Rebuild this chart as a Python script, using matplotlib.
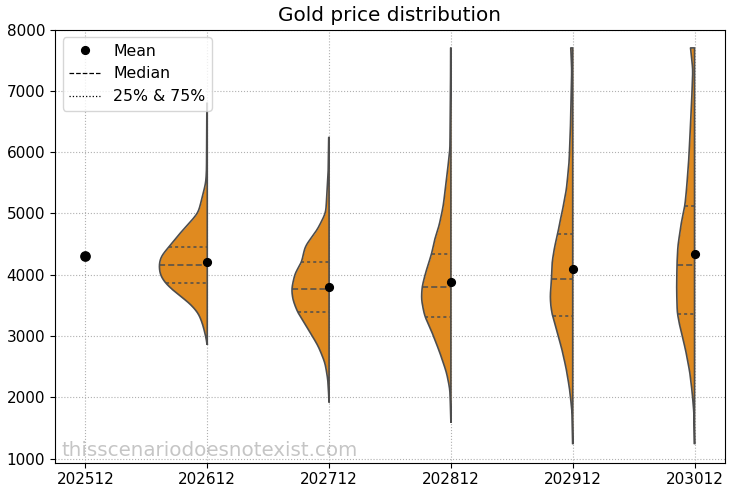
import numpy as np
import matplotlib
matplotlib.use("Agg")
import matplotlib.pyplot as plt
from matplotlib.lines import Line2D

# categories (year-month of the forecast horizon)
periods = ["202512", "202612", "202712", "202812", "202912", "203012"]

# summary stats (202512 has only a single value)
means = [4300, 4205, 3800, 3890, 4100, 4340]
medians = [None, 4165, 3765, 3795, 3925, 4165]
q25 = [None, 3860, 3385, 3315, 3320, 3365]
q75 = [None, 4455, 4205, 4345, 4660, 5115]

# half-violin outlines: price levels and density half-widths (category units)
prof_y_202612 = [2870, 3053, 3216, 3379, 3542, 3705, 3868, 4003, 4165, 4302, 4465,
                 4628, 4791, 5010, 5227, 5500, 5700, 6800]
prof_w_202612 = [0.0, 0.019, 0.041, 0.074, 0.148, 0.257, 0.347, 0.388, 0.396, 0.38,
                 0.31, 0.246, 0.17, 0.074, 0.046, 0.012, 0.006, 0.003]

prof_y_202712 = [1930, 2290, 2563, 2834, 3106, 3394, 3595, 3769, 4030, 4204, 4300,
                 4465, 4737, 5010, 5281, 5600, 6240]
prof_w_202712 = [0.0, 0.01, 0.033, 0.088, 0.17, 0.26, 0.298, 0.308, 0.279, 0.224,
                 0.215, 0.197, 0.096, 0.027, 0.019, 0.008, 0.003]

prof_y_202812 = [1600, 2128, 2400, 2726, 3052, 3329, 3595, 3802, 4030, 4357, 4574,
                 4791, 5118, 5662, 6042, 7000, 7700]
prof_w_202812 = [0.0, 0.008, 0.035, 0.09, 0.153, 0.216, 0.242, 0.237, 0.208, 0.156,
                 0.134, 0.098, 0.063, 0.03, 0.008, 0.003, 0.002]

prof_y_202912 = [1250, 1747, 2128, 2454, 2780, 3106, 3334, 3487, 3650, 3932, 4193,
                 4465, 4667, 4847, 5010, 5390, 5825, 6369, 7347, 7700]
prof_w_202912 = [0.0, 0.005, 0.025, 0.052, 0.088, 0.134, 0.167, 0.18, 0.185, 0.174,
                 0.17, 0.148, 0.123, 0.107, 0.088, 0.052, 0.03, 0.019, 0.008, 0.016]

prof_y_203012 = [1250, 1747, 2074, 2400, 2780, 3106, 3377, 3758, 4177, 4465, 4847,
                 5129, 5390, 5825, 6369, 6912, 7347, 7700]
prof_w_203012 = [0.0, 0.005, 0.019, 0.038, 0.074, 0.115, 0.142, 0.147, 0.144, 0.137,
                 0.109, 0.079, 0.066, 0.049, 0.035, 0.022, 0.014, 0.033]

profiles = {
    "202612": (prof_y_202612, prof_w_202612),
    "202712": (prof_y_202712, prof_w_202712),
    "202812": (prof_y_202812, prof_w_202812),
    "202912": (prof_y_202912, prof_w_202912),
    "203012": (prof_y_203012, prof_w_203012),
}

fill_col = "#e08a1f"
edge_col = "#4d4d4d"


def smooth_outline(ys, ws, n=500, sigma=60.0):
    ys = np.asarray(ys, dtype=float)
    ws = np.asarray(ws, dtype=float)
    yy = np.linspace(ys[0], ys[-1], n)
    ww = np.interp(yy, ys, ws)
    step = yy[1] - yy[0]
    half = int(3 * sigma / step) + 1
    t = np.arange(-half, half + 1) * step
    k = np.exp(-0.5 * (t / sigma) ** 2)
    k /= k.sum()
    ww_s = np.convolve(np.pad(ww, half, mode="edge"), k, mode="valid")
    ww_s[0] = ws[0]
    ww_s[-1] = ws[-1]
    return yy, ww_s


fig = plt.figure(figsize=(7.31, 4.92), dpi=100)
ax = fig.add_axes([0.0752, 0.0596, 0.9166, 0.8804])

ax.grid(True, linestyle=":", color="#b0b0b0", linewidth=0.8)
ax.set_axisbelow(True)

for i, p in enumerate(periods):
    if p not in profiles:
        continue
    yy, ww = smooth_outline(*profiles[p])
    ax.fill_betweenx(yy, i - ww, i, color=fill_col, linewidth=0, zorder=2)
    ax.plot(np.r_[i, i - ww, i, i], np.r_[yy[0], yy, yy[-1], yy[0]],
            color=edge_col, linewidth=1.2, zorder=3)
    for val, dash in ((q25[i], (2.0, 2.0)), (medians[i], (4.0, 2.0)), (q75[i], (2.0, 2.0))):
        w = np.interp(val, yy, ww)
        ax.plot([i - w, i], [val, val], color=edge_col, linewidth=1.1,
                dashes=dash, zorder=4)

for i, m in enumerate(means):
    ms = 6.7 if i == 0 else 5.6
    ax.plot(i, m, "o", color="black", markersize=ms, zorder=5)

ax.set_xticks(range(len(periods)))
ax.set_xticklabels(periods)
ax.set_xlim(-0.25, 5.25)
ax.set_ylim(935, 8000)
ax.tick_params(labelsize=11)
ax.set_title("Gold price distribution", fontsize=14.4)

handles = [
    Line2D([], [], marker="o", color="black", linestyle="none", markersize=5.6),
    Line2D([], [], color="black", linestyle="--", linewidth=0.9),
    Line2D([], [], color="black", linestyle=":", linewidth=0.9),
]
ax.legend(handles, ["Mean", "Median", "25% & 75%"], loc="upper left", fontsize=11.3)

ax.text(0.01, 0.015, "thisscenariodoesnotexist.com", transform=ax.transAxes,
        fontsize=14.3, color="gray", alpha=0.45, va="baseline", zorder=1)

fig.savefig("out.png", dpi=100)
